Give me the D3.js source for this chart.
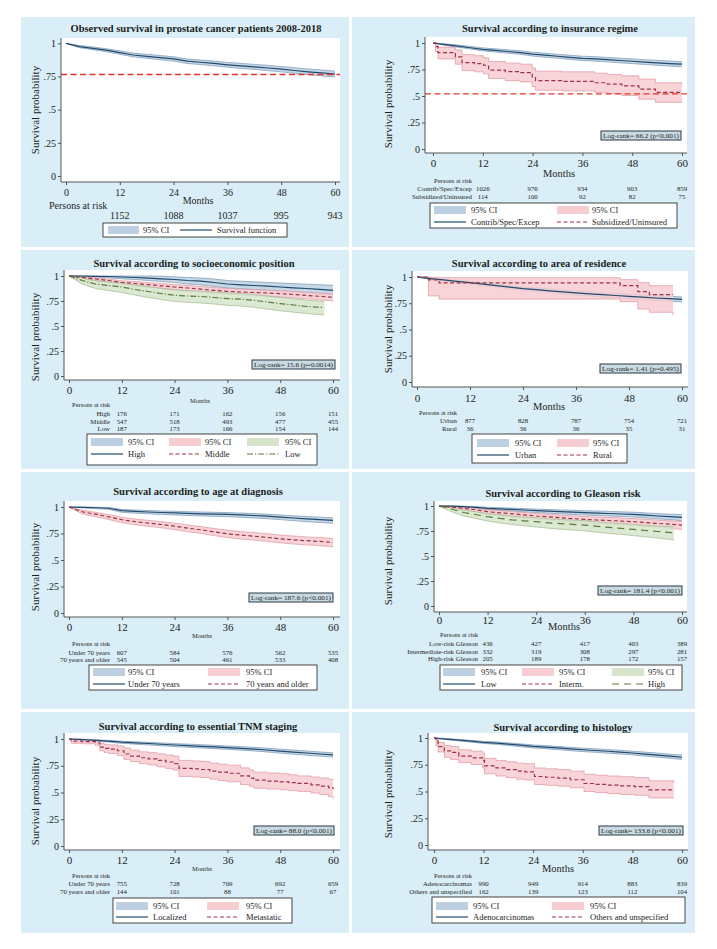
<!DOCTYPE html>
<html>
<head>
<meta charset="utf-8">
<title>Survival curves</title>
<script src="https://cdn.jsdelivr.net/npm/d3@7"></script>
<style>
  body { margin: 0; background: #fff; }
  svg text { font-family: "Liberation Serif", "Times New Roman", serif; fill: #1e1e1e; }
</style>
</head>
<body>
<svg id="fig" width="717" height="949"></svg>
<script>
// Rows are [month, survival, lower CI, upper CI]
const allSurv = [[0,1,1,1],[3,.975,.967,.983],[6,.962,.952,.972],[9,.948,.937,.959],[12,.93,.917,.943],[15,.912,.898,.926],[18,.902,.887,.917],[21,.892,.876,.908],[24,.882,.866,.898],[27,.865,.848,.882],[30,.857,.84,.874],[33,.848,.83,.866],[36,.838,.82,.856],[39,.83,.811,.849],[42,.822,.803,.841],[45,.814,.794,.834],[48,.805,.785,.825],[51,.795,.774,.816],[54,.785,.764,.806],[57,.777,.755,.799],[60,.768,.746,.79]];

const contribSurv = [[0,1,1,1],[3,.985,.977,.992],[6,.97,.96,.98],[9,.955,.943,.967],[12,.94,.926,.954],[15,.93,.915,.945],[18,.92,.904,.936],[21,.91,.893,.927],[24,.895,.877,.913],[27,.885,.866,.904],[30,.875,.856,.894],[33,.865,.845,.885],[36,.855,.835,.875],[39,.85,.829,.871],[42,.843,.822,.864],[45,.835,.813,.857],[48,.828,.806,.85],[51,.82,.797,.843],[54,.813,.79,.836],[57,.806,.782,.83],[60,.80,.776,.824]];
const subsidSurv = [[0,1,1,1],[0.6,.965,.92,1],[1.2,.91,.85,.96],[5.4,.87,.80,.935],[7,.815,.74,.89],[10,.805,.728,.88],[12.2,.79,.71,.86],[13.4,.745,.665,.825],[17.4,.73,.645,.81],[21,.72,.633,.8],[23.9,.68,.59,.765],[24.7,.645,.555,.735],[31,.638,.548,.728],[39,.625,.535,.715],[42,.612,.522,.703],[45.5,.595,.505,.69],[49.6,.565,.47,.66],[53.6,.535,.44,.625],[60,.535,.44,.61]];

const highSES = [[0,1,1,1],[3,1,.995,1],[6,.997,.99,1],[9,.995,.982,1],[12,.99,.972,1],[15,.985,.965,1],[18,.978,.955,1],[21,.972,.945,.998],[24,.965,.935,.992],[27,.955,.92,.985],[30,.948,.91,.98],[33,.935,.895,.97],[36,.92,.88,.955],[39,.912,.872,.948],[42,.905,.865,.942],[45,.898,.857,.936],[48,.89,.848,.93],[51,.882,.838,.924],[54,.875,.83,.918],[57,.867,.82,.913],[60,.857,.807,.907]];
const middleSES = [[0,1,1,1],[3,.985,.975,.993],[6,.97,.956,.982],[9,.955,.938,.969],[12,.935,.915,.952],[15,.925,.903,.944],[18,.913,.89,.934],[21,.902,.878,.925],[24,.89,.864,.914],[27,.88,.853,.905],[30,.868,.84,.894],[33,.857,.828,.884],[36,.847,.817,.875],[39,.84,.81,.869],[42,.835,.804,.864],[45,.83,.798,.859],[48,.824,.792,.854],[51,.815,.782,.846],[54,.806,.772,.838],[57,.797,.762,.829],[60,.787,.75,.82]];
const lowSES = [[0,1,1,1],[3,.955,.92,.98],[6,.92,.875,.952],[9,.905,.855,.94],[12,.89,.835,.93],[15,.865,.81,.91],[18,.845,.785,.892],[21,.825,.765,.875],[24,.807,.745,.86],[27,.8,.737,.853],[30,.795,.73,.848],[33,.785,.72,.84],[36,.774,.707,.83],[39,.768,.7,.825],[42,.757,.688,.815],[45,.74,.67,.8],[48,.724,.652,.786],[51,.71,.638,.772],[54,.695,.625,.758],[58,.684,.61,.745]];

const urbanSurv = [[0,1,1,1],[3,.985,.977,.992],[6,.972,.962,.981],[9,.958,.946,.969],[12,.946,.932,.958],[15,.932,.917,.946],[18,.918,.902,.933],[21,.903,.886,.919],[24,.889,.871,.906],[27,.879,.861,.897],[30,.868,.849,.887],[33,.858,.838,.877],[36,.848,.827,.868],[39,.84,.819,.861],[42,.832,.81,.853],[45,.824,.802,.846],[48,.816,.793,.838],[51,.808,.785,.831],[54,.8,.776,.823],[57,.794,.77,.817],[60,.787,.762,.81]];
const ruralSurv = [[0,1,1,1],[2.6,.972,.82,.996],[5,.944,.79,.993],[46,.917,.765,.975],[50,.861,.695,.946],[52.6,.833,.664,.917],[58,.833,.63,.917]];

const under70 = [[0,1,1,1],[3,.997,.993,1],[6,.993,.985,.998],[9,.988,.978,.995],[12,.965,.95,.977],[15,.958,.942,.971],[18,.953,.936,.967],[21,.948,.93,.963],[24,.944,.925,.96],[27,.94,.92,.956],[30,.936,.916,.953],[33,.933,.912,.95],[36,.93,.909,.947],[39,.925,.903,.943],[42,.92,.897,.938],[45,.913,.89,.932],[48,.905,.881,.925],[51,.896,.871,.917],[54,.888,.862,.91],[57,.881,.854,.904],[60,.874,.846,.898]];
const over70 = [[0,1,1,1],[3,.955,.935,.97],[6,.932,.909,.95],[9,.907,.882,.928],[12,.88,.853,.903],[15,.862,.833,.887],[18,.848,.818,.874],[21,.835,.804,.862],[24,.82,.788,.848],[27,.8,.767,.83],[30,.785,.751,.815],[33,.765,.73,.797],[36,.748,.712,.781],[39,.735,.698,.768],[42,.725,.688,.759],[45,.713,.676,.748],[48,.7,.662,.735],[51,.69,.651,.726],[54,.682,.643,.718],[57,.675,.635,.712],[60,.665,.625,.702]];

const gleasonLow = [[0,1,1,1],[3,.998,.993,1],[6,.993,.985,.998],[9,.987,.976,.994],[12,.977,.963,.987],[15,.972,.957,.983],[18,.966,.95,.979],[21,.96,.942,.974],[24,.953,.934,.969],[27,.948,.928,.965],[30,.943,.922,.961],[33,.938,.916,.957],[36,.933,.91,.953],[39,.929,.905,.95],[42,.925,.9,.946],[45,.92,.895,.942],[48,.916,.89,.938],[51,.908,.881,.931],[54,.9,.872,.924],[57,.893,.864,.918],[60,.886,.853,.914]];
const gleasonInt = [[0,1,1,1],[3,.99,.979,.996],[6,.978,.962,.989],[9,.962,.942,.977],[12,.943,.918,.962],[15,.932,.905,.953],[18,.922,.893,.944],[21,.911,.881,.935],[24,.9,.868,.925],[27,.892,.859,.918],[30,.883,.849,.91],[33,.874,.839,.902],[36,.866,.83,.895],[39,.86,.823,.89],[42,.855,.818,.885],[45,.849,.811,.88],[48,.843,.805,.874],[51,.834,.795,.866],[54,.826,.786,.859],[57,.818,.777,.852],[60,.809,.765,.847]];
const gleasonHigh = [[0,1,1,1],[3,.97,.945,.985],[6,.935,.9,.96],[9,.915,.876,.943],[12,.893,.85,.925],[15,.876,.83,.911],[18,.862,.815,.899],[21,.852,.803,.89],[24,.843,.79,.882],[27,.832,.778,.873],[30,.823,.768,.865],[33,.816,.76,.859],[36,.809,.752,.853],[39,.797,.738,.843],[42,.786,.726,.833],[45,.776,.716,.825],[48,.766,.704,.816],[51,.755,.692,.807],[54,.745,.68,.799],[58,.732,.662,.792]];

const localized = [[0,1,1,1],[3,.995,.99,.998],[6,.988,.981,.993],[9,.98,.971,.987],[12,.97,.959,.979],[15,.964,.952,.974],[18,.958,.945,.969],[21,.951,.937,.963],[24,.944,.929,.957],[27,.938,.923,.952],[30,.932,.916,.947],[33,.926,.91,.941],[36,.92,.903,.935],[39,.913,.896,.929],[42,.906,.888,.922],[45,.897,.879,.914],[48,.887,.868,.905],[51,.878,.858,.897],[54,.869,.849,.888],[57,.86,.84,.879],[60,.852,.831,.871]];
const metastatic = [[0,1,1,1],[0.5,.98,.96,1],[3,.975,.955,.995],[6,.965,.94,.99],[7,.925,.89,.96],[8,.912,.875,.95],[9,.905,.865,.945],[11,.89,.845,.935],[12.5,.86,.81,.915],[14,.84,.788,.895],[16,.825,.77,.88],[18,.815,.758,.872],[20,.8,.74,.86],[22,.785,.725,.85],[23.7,.77,.71,.84],[25,.725,.65,.80],[28,.72,.645,.795],[30,.715,.64,.79],[32,.70,.625,.775],[34,.69,.612,.765],[36,.68,.60,.755],[39,.655,.575,.73],[41,.635,.558,.71],[42,.615,.54,.69],[45,.607,.532,.682],[48,.60,.525,.675],[50,.592,.518,.665],[52,.585,.51,.655],[55,.572,.495,.645],[57,.56,.48,.635],[59,.545,.46,.625],[60,.53,.44,.615]];

const adeno = [[0,1,1,1],[3,.99,.985,.995],[6,.98,.973,.987],[9,.97,.961,.978],[12,.96,.949,.969],[15,.953,.941,.963],[18,.943,.93,.954],[21,.933,.919,.945],[24,.922,.907,.935],[27,.915,.9,.929],[30,.907,.891,.921],[33,.898,.882,.913],[36,.89,.873,.905],[39,.883,.866,.899],[42,.876,.858,.892],[45,.868,.85,.885],[48,.86,.842,.877],[51,.85,.831,.868],[54,.84,.821,.859],[57,.83,.81,.849],[60,.82,.8,.84]];
const othersHist = [[0,1,1,1],[0.5,.97,.93,1],[1,.92,.87,.96],[2.5,.88,.82,.93],[4,.866,.80,.92],[6,.83,.77,.89],[9,.815,.752,.877],[11.8,.79,.72,.86],[12.2,.74,.665,.81],[15,.72,.645,.79],[17.5,.705,.63,.778],[20,.69,.615,.765],[22,.683,.607,.76],[24.3,.64,.565,.72],[27,.633,.558,.712],[30,.625,.55,.705],[33,.61,.535,.69],[36.3,.575,.50,.66],[39,.567,.49,.652],[42,.56,.48,.645],[45,.553,.472,.638],[48.5,.545,.465,.63],[52,.515,.44,.60],[58,.505,.435,.58]];

// Numbers at risk (months 12..60)
const riskMonths = [12, 24, 36, 48, 60];
const riskAll = [1152, 1088, 1037, 995, 943];
const riskContrib = [1026, 976, 934, 903, 859];
const riskSubsid = [114, 100, 92, 82, 75];
const riskHigh = [176, 171, 162, 156, 151];
const riskMiddle = [547, 518, 493, 477, 455];
const riskLow = [187, 173, 166, 154, 144];
const riskUrban = [877, 828, 787, 754, 721];
const riskRural = [36, 36, 36, 35, 31];
const riskUnder70 = [607, 584, 576, 562, 535];
const riskOver70 = [545, 504, 461, 533, 408];
const riskGlLow = [436, 427, 417, 403, 389];
const riskGlInt = [332, 319, 308, 297, 281];
const riskGlHigh = [205, 189, 178, 172, 157];
const riskLocal = [755, 728, 709, 692, 659];
const riskMeta = [144, 101, 88, 77, 67];
const riskAdeno = [990, 949, 914, 883, 839];
const riskOthers = [162, 139, 123, 112, 104];

const xTicks = [0, 12, 24, 36, 48, 60];
const yTicks = [0, .25, .5, .75, 1];

const styles = {
  blue:   {line: "#1f4a6c", fill: "#bcd0e2", edge: "#7797b6", dash: null},
  red:    {line: "#9a3443", fill: "#f7cdd2", edge: "#e0949e", dash: "4,2.5"},
  green:  {line: "#5a7a3a", fill: "#d5e4ca", edge: "#9fba8d", dash: "6,2,1.2,2"},
  green2: {line: "#5a7a3a", fill: "#d5e4ca", edge: "#9fba8d", dash: "7,5"}
};

// layout of each of the 8 panels
const panels = [
  {title: "Observed survival in prostate cancer patients 2008-2018", tpos: [196, 28],
   box: [21, 17, 328, 230], plot: [61, 38, 340, 182], xr: [66, 335], yr: [176, 43.3],
   yTitle: [35, 110], tickY: 192, tickFont: 10, months: [198, 200, 10],
   series: [{d: allSurv, st: "blue"}], ref: 0.765,
   risk: {big: true, head: [49, 205], rowY: [215], rows: [riskAll]},
   legend: {box: [103, 223, 184, 14], single: true, y: 230, cols: [[108, 143], [180, 217]], labels: ["Survival function"]}},
  {title: "Survival according to insurance regime", tpos: [550, 28],
   box: [352, 17, 343, 230], plot: [425, 37, 687, 153], xr: [433, 682], yr: [149, 43],
   yTitle: [388, 104], tickY: 163, tickFont: 11, months: [559, 173, 10.5],
   series: [{d: contribSurv, st: "blue"}, {d: subsidSurv, st: "red", step: true}], ref: 0.52,
   risk: {labelX: 472, headY: 180, rowY: [188, 196], labels: ["Contrib/Spec/Excep", "Subsidized/Uninsured"], rows: [riskContrib, riskSubsid]},
   legend: {box: [430, 203, 247, 25], rows: [210, 222], cols: [[434, 471], [557, 592]], labels: ["Contrib/Spec/Excep", "Subsidized/Uninsured"]},
   logrank: {text: "Log-rank= 66.2 (p<0,001)", box: [601, 131, 80, 9]}},
  {title: "Survival according to socioeconomic position", tpos: [194, 263],
   box: [21, 250, 328, 219], plot: [64, 270, 340, 380], xr: [69, 333], yr: [376, 276],
   yTitle: [35, 337], tickY: 390, tickFont: 11, months: [200, 400, 6.5],
   series: [{d: highSES, st: "blue"}, {d: middleSES, st: "red"}, {d: lowSES, st: "green"}],
   risk: {labelX: 110, headY: 404, rowY: [413, 421, 428], labels: ["High", "Middle", "Low"], rows: [riskHigh, riskMiddle, riskLow]},
   legend: {box: [87, 434, 230, 31], rows: [442, 454], cols: [[91, 128], [169, 205], [247, 285]], labels: ["High", "Middle", "Low"]},
   logrank: {text: "Log-rank= 15.6 (p=0.0014)", box: [252, 360, 83, 9]}},
  {title: "Survival according to area of residence", tpos: [539, 263],
   box: [352, 250, 343, 219], plot: [412, 271, 688, 387], xr: [417, 682], yr: [382, 277],
   yTitle: [388, 329], tickY: 398, tickFont: 11, months: [549, 406, 10.5],
   series: [{d: urbanSurv, st: "blue"}, {d: ruralSurv, st: "red", step: true}],
   risk: {labelX: 457, headY: 412, rowY: [420, 428], labels: ["Urban", "Rural"], rows: [riskUrban, riskRural]},
   legend: {box: [472, 434, 155, 29], rows: [443, 455], cols: [[477, 515], [557, 593]], labels: ["Urban", "Rural"]},
   logrank: {text: "Log-rank= 1.41 (p=0.495)", box: [600, 364, 81, 9]}},
  {title: "Survival according to age at diagnosis", tpos: [198, 491],
   box: [21, 472, 328, 237], plot: [64, 501, 340, 617], xr: [69, 333], yr: [613, 507],
   yTitle: [35, 567], tickY: 627, tickFont: 11, months: [202, 635, 6.5],
   series: [{d: under70, st: "blue"}, {d: over70, st: "red"}],
   risk: {labelX: 110, headY: 643, rowY: [652, 659], labels: ["Under 70 years", "70 years and older"], rows: [riskUnder70, riskOver70]},
   legend: {box: [89, 665, 228, 25], rows: [672, 684], cols: [[93, 128], [208, 246]], labels: ["Under 70 years", "70 years and older"]},
   logrank: {text: "Log-rank= 187.6 (p<0.001)", box: [249, 593, 84, 9]}},
  {title: "Survival according to Gleason risk", tpos: [563, 493],
   box: [352, 472, 343, 237], plot: [434, 501, 687, 612], xr: [439, 682], yr: [606, 506],
   yTitle: [388, 561], tickY: 620, tickFont: 11, months: [564, 626, 10.5],
   series: [{d: gleasonLow, st: "blue"}, {d: gleasonInt, st: "red"}, {d: gleasonHigh, st: "green2"}],
   risk: {labelX: 478, headY: 634, rowY: [643, 651, 658], labels: ["Low-risk Gleason", "Intermediate-risk Gleason", "High-risk Gleason"], rows: [riskGlLow, riskGlInt, riskGlHigh]},
   legend: {box: [440, 665, 242, 25], rows: [672, 684], cols: [[443, 481], [522, 559], [612, 648]], labels: ["Low", "Interm.", "High"]},
   logrank: {text: "Log-rank= 181.4 (p<0.001)", box: [598, 586, 84, 9]}},
  {title: "Survival according to essential TNM staging", tpos: [198, 726],
   box: [21, 712, 328, 221], plot: [64, 733, 340, 850], xr: [69, 333], yr: [846, 739],
   yTitle: [35, 801], tickY: 860, tickFont: 11, months: [202, 868, 6.5],
   series: [{d: localized, st: "blue"}, {d: metastatic, st: "red", step: true}],
   risk: {labelX: 110, headY: 875, rowY: [883, 891], labels: ["Under 70 years", "70 years and older"], rows: [riskLocal, riskMeta]},
   legend: {box: [113, 898, 179, 25], rows: [906, 917], cols: [[116, 153], [207, 246]], labels: ["Localized", "Metastatic"]},
   logrank: {text: "Log-rank= 88.0 (p<0.001)", box: [254, 826, 80, 9]}},
  {title: "Survival according to histology", tpos: [563, 727],
   box: [352, 712, 343, 221], plot: [428, 733, 688, 850], xr: [434, 682], yr: [845, 738],
   yTitle: [388, 794], tickY: 860, tickFont: 11, months: [558, 868, 10.5],
   series: [{d: adeno, st: "blue"}, {d: othersHist, st: "red", step: true}],
   risk: {labelX: 472, headY: 875, rowY: [883, 891], labels: ["Adenocarcinomas", "Others and unspecified"], rows: [riskAdeno, riskOthers]},
   legend: {box: [432, 897, 253, 26], rows: [906, 917], cols: [[436, 473], [552, 590]], labels: ["Adenocarcinomas", "Others and unspecified"]},
   logrank: {text: "Log-rank= 133.6 (p<0.001)", box: [599, 826, 84, 9]}}
];

const svg = d3.select("#fig");

function fmtY(d) {
  if (d === 0) return "0";
  if (d === 1) return "1";
  return String(d).replace(/^0/, "");
}

function addText(g, x, y, txt, size, anchor) {
  return g.append("text")
    .attr("x", x).attr("y", y)
    .attr("font-size", size)
    .attr("text-anchor", anchor || "start")
    .attr("dominant-baseline", "central")
    .text(txt);
}

panels.forEach(p => {
  const g = svg.append("g");
  const [bx, by, bw, bh] = p.box;
  const [pl, pt, pr, pb] = p.plot;

  g.append("rect").attr("x", bx).attr("y", by).attr("width", bw).attr("height", bh).attr("fill", "#d9eef6");
  g.append("rect").attr("x", pl).attr("y", pt).attr("width", pr - pl).attr("height", pb - pt).attr("fill", "#fff");

  const x = d3.scaleLinear().domain([0, 60]).range(p.xr);
  const y = d3.scaleLinear().domain([0, 1]).range(p.yr);

  // CI bands first, then the curves on top
  p.series.forEach(s => {
    const st = styles[s.st];
    const curve = s.step ? d3.curveStepAfter : d3.curveLinear;
    g.append("path").datum(s.d)
      .attr("d", d3.area().x(d => x(d[0])).y0(d => y(d[2])).y1(d => y(d[3])).curve(curve))
      .attr("fill", st.fill).attr("fill-opacity", 0.85);
    [2, 3].forEach(k => {
      g.append("path").datum(s.d)
        .attr("d", d3.line().x(d => x(d[0])).y(d => y(d[k])).curve(curve))
        .attr("fill", "none").attr("stroke", st.edge).attr("stroke-width", 0.7);
    });
  });
  p.series.forEach(s => {
    const st = styles[s.st];
    const curve = s.step ? d3.curveStepAfter : d3.curveLinear;
    g.append("path").datum(s.d)
      .attr("d", d3.line().x(d => x(d[0])).y(d => y(d[1])).curve(curve))
      .attr("fill", "none").attr("stroke", st.line).attr("stroke-width", 1.2)
      .attr("stroke-dasharray", st.dash);
  });

  if (p.ref != null) {
    g.append("line")
      .attr("x1", pl).attr("x2", pr).attr("y1", y(p.ref)).attr("y2", y(p.ref))
      .attr("stroke", "#e4352c").attr("stroke-width", 1.3).attr("stroke-dasharray", "6,3.5");
  }

  // axes
  const yAxis = g.append("g").attr("transform", `translate(${pl},0)`)
    .call(d3.axisLeft(y).tickValues(yTicks).tickFormat(fmtY).tickSize(3).tickPadding(2));
  yAxis.select(".domain").remove();
  yAxis.selectAll("text").attr("font-size", 10).attr("font-family", null);
  yAxis.selectAll("line").attr("stroke", "#555");

  const xAxis = g.append("g").attr("transform", `translate(0,${pb})`)
    .call(d3.axisBottom(x).tickValues(xTicks).tickSize(3).tickPadding(2));
  xAxis.select(".domain").remove();
  xAxis.selectAll("text").attr("font-size", p.tickFont).attr("font-family", null)
    .attr("y", null).attr("dy", null)
    .attr("dominant-baseline", "central").attr("transform", `translate(0,${p.tickY - pb})`);
  xAxis.selectAll("line").attr("stroke", "#555");

  g.append("line").attr("x1", pl).attr("x2", pl).attr("y1", pt).attr("y2", pb).attr("stroke", "#555");
  g.append("line").attr("x1", pl).attr("x2", pr).attr("y1", pb).attr("y2", pb).attr("stroke", "#555");

  // titles
  addText(g, p.tpos[0], p.tpos[1], p.title, 10.5, "middle").attr("font-weight", "bold");
  addText(g, 0, 0, "Survival probability", 11, "middle")
    .attr("transform", `translate(${p.yTitle[0]},${p.yTitle[1]}) rotate(-90)`);
  addText(g, p.months[0], p.months[1], "Months", p.months[2], "middle");

  // numbers at risk
  const r = p.risk;
  if (r.big) {
    addText(g, r.head[0], r.head[1], "Persons at risk", 10);
    riskMonths.forEach((m, i) => addText(g, x(m), r.rowY[0], r.rows[0][i], 10, "middle"));
  } else {
    addText(g, r.labelX, r.headY, "Persons at risk", 6.5, "end");
    r.rows.forEach((row, j) => {
      addText(g, r.labelX, r.rowY[j], r.labels[j], 6.8, "end");
      riskMonths.forEach((m, i) => addText(g, x(m), r.rowY[j], row[i], 6.8, "middle"));
    });
  }

  // legend
  const L = p.legend;
  g.append("rect").attr("x", L.box[0]).attr("y", L.box[1]).attr("width", L.box[2]).attr("height", L.box[3])
    .attr("fill", "#fff").attr("stroke", "#444").attr("stroke-width", 1);
  if (L.single) {
    const st = styles[p.series[0].st];
    g.append("rect").attr("x", L.cols[0][0]).attr("y", L.y - 4).attr("width", 31).attr("height", 8).attr("fill", st.fill);
    addText(g, L.cols[0][1], L.y, "95% CI", 8.5);
    g.append("line").attr("x1", L.cols[1][0]).attr("x2", L.cols[1][0] + 32).attr("y1", L.y).attr("y2", L.y)
      .attr("stroke", st.line).attr("stroke-width", 1.2);
    addText(g, L.cols[1][1], L.y, L.labels[0], 8.5);
  } else {
    p.series.forEach((s, i) => {
      const st = styles[s.st];
      const [sx, tx] = L.cols[i];
      g.append("rect").attr("x", sx).attr("y", L.rows[0] - 4).attr("width", 32).attr("height", 8).attr("fill", st.fill);
      addText(g, tx, L.rows[0], "95% CI", 8.5);
      g.append("line").attr("x1", sx).attr("x2", sx + 32).attr("y1", L.rows[1]).attr("y2", L.rows[1])
        .attr("stroke", st.line).attr("stroke-width", 1.2).attr("stroke-dasharray", st.dash);
      addText(g, tx, L.rows[1], L.labels[i], 8.5);
    });
  }

  // log-rank box
  if (p.logrank) {
    const [lx, ly, lw, lh] = p.logrank.box;
    g.append("rect").attr("x", lx).attr("y", ly).attr("width", lw).attr("height", lh)
      .attr("fill", "#c9dae2").attr("stroke", "#2b3a46").attr("stroke-width", 1);
    addText(g, lx + 2, ly + lh / 2 + 0.3, p.logrank.text, 7)
      .attr("textLength", lw - 4).attr("lengthAdjust", "spacingAndGlyphs");
  }
});
</script>
</body>
</html>
